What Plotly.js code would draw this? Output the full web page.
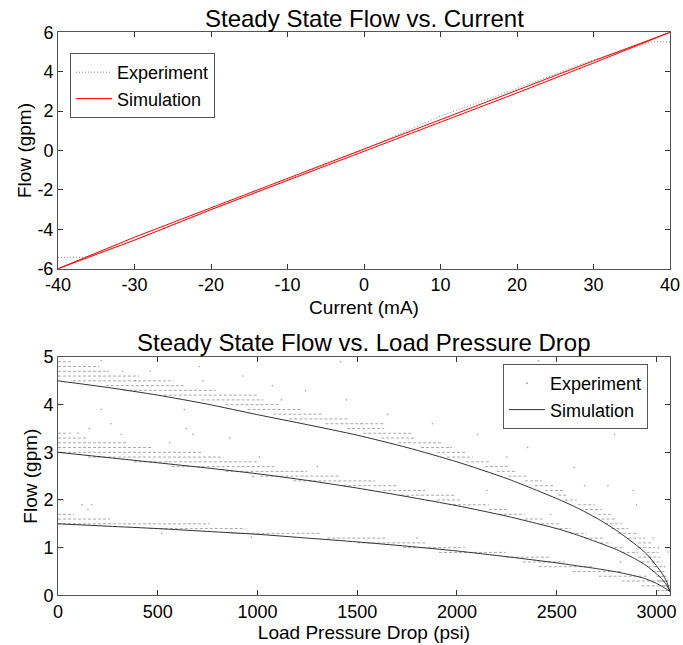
<!DOCTYPE html>
<html>
<head>
<meta charset="utf-8">
<script src="https://cdn.plot.ly/plotly-3.0.1.min.js"></script>
<style>html,body{margin:0;padding:0;background:#fff;}#chart{width:683px;height:645px;}</style>
</head>
<body>
<div id="chart"></div>
<script>
// ---------- Top panel: Flow vs Current ----------
const currentTicks = [-40, -30, -20, -10, 0, 10, 20, 30, 40];
const currentTickText = ['-40', '-30', '-20', '-10', '0', '10', '20', '30', '40'];
const flowTicksTop = [-6, -4, -2, 0, 2, 4, 6];
const flowTickTextTop = ['-6', '-4', '-2', '0', '2', '4', '6'];

const expCurrent = [-40, -36.5, -30, -20, -10, 0, 10, 20, 30, 37.5, 40];
const expFlowTop = [-5.42, -5.42, -4.55, -3.02, -1.5, 0.05, 1.75, 3.15, 4.6, 5.52, 5.52];

const simCurrent = [-40, -30, -20, -10, 0, 10, 20, 30, 40, 30, 20, 10, 0, -10, -20, -30, -40];
const simFlowTop = [-6, -4.55, -3.0, -1.53, -0.06, 1.44, 2.92, 4.44, 6, 4.55, 3.06, 1.58, 0.07, -1.4, -2.88, -4.4, -6];

// ---------- Bottom panel: Flow vs Load Pressure Drop ----------
const pressureTicks = [0, 500, 1000, 1500, 2000, 2500, 3000];
const flowTicksBot = [0, 1, 2, 3, 4, 5];

// Simulation curves (pressure in psi, flow in gpm)
const simP = [0, 250, 500, 750, 1000, 1250, 1500, 1750, 2000, 2250, 2500, 2600, 2700, 2800, 2900, 2950, 3000, 3030, 3050, 3068];
const simHigh = [4.5, 4.36, 4.2, 4.01, 3.79, 3.58, 3.36, 3.1, 2.8, 2.45, 2.03, 1.84, 1.62, 1.36, 1.05, 0.87, 0.62, 0.45, 0.3, 0.08];
const simMid = [3.0, 2.89, 2.78, 2.67, 2.55, 2.41, 2.25, 2.07, 1.88, 1.66, 1.4, 1.27, 1.12, 0.96, 0.75, 0.62, 0.45, 0.33, 0.22, 0.08];
const simLow = [1.5, 1.45, 1.4, 1.34, 1.28, 1.2, 1.12, 1.03, 0.93, 0.81, 0.68, 0.62, 0.56, 0.49, 0.4, 0.34, 0.25, 0.18, 0.13, 0.08];

// Experiment: quantized flow streaks (flow level, from psi, to psi)
const streakFlow = [
  4.9, 4.8, 4.7, 4.6, 4.5, 4.4, 4.3, 4.2, 4.1, 4.0, 4.0, 3.9, 3.8, 3.7, 3.6, 3.5, 3.4, 3.3, 3.2, 3.1, 3.0, 2.9, 2.8, 2.7, 2.6,
  2.5, 2.4, 2.3, 2.2, 2.1, 2.0, 1.9, 1.8, 1.7, 1.6, 1.5, 1.4, 1.3, 1.2, 1.1, 1.0, 0.9, 0.8, 0.7, 0.6, 0.5, 0.4, 0.3, 0.2, 0.1,
  3.4, 3.3, 3.2, 3.1, 3.0, 2.9, 2.8, 2.7, 2.6, 2.5, 2.4, 2.3, 2.2, 2.1, 2.0, 1.9, 1.8, 1.7, 1.6, 1.5, 1.4, 1.3, 1.2, 1.1, 1.0,
  0.9, 0.8, 0.7, 0.6, 0.5, 0.4, 0.3, 0.2,
  2.0, 1.7, 1.6, 1.5, 1.4, 1.3, 1.2, 1.1, 1.0, 1.0, 0.9, 0.8, 0.7, 0.6, 0.5, 0.4, 0.3, 0.2, 0.1
];
const streakFrom = [
  0, 0, 0, 0, 75, 240, 330, 530, 720, 0, 840, 950, 1080, 1160, 1340, 1450, 1530, 1620, 1705, 1820, 1900, 1950, 2045, 2140, 2200,
  2258, 2341, 2391, 2441, 2508, 2541, 2608, 2642, 2708, 2725, 2742, 2775, 2809, 2859, 2909, 2909, 2951, 2960, 2975, 2990, 3000, 3010, 3020, 3035, 3045,
  0, 0, 0, 0, 0, 150, 380, 570, 840, 1015, 1180, 1430, 1630, 1720, 1900, 1980, 2160, 2210, 2340, 2420, 2490, 2570, 2640, 2720, 2790,
  2826, 2909, 2926, 2960, 2980, 3000, 3010, 3030,
  0, 0, 0, 0, 460, 870, 1350, 1500, 0, 1730, 1910, 2245, 2330, 2410, 2580, 2710, 2826, 2926, 3000
];
const streakTo = [
  73, 206, 240, 407, 580, 630, 790, 1000, 1030, 30, 1105, 1215, 1330, 1450, 1635, 1635, 1770, 1790, 1920, 1970, 2050, 2080, 2160, 2260, 2300,
  2358, 2425, 2491, 2541, 2558, 2600, 2692, 2725, 2775, 2792, 2826, 2859, 2909, 2943, 2976, 2993, 3009, 3020, 3030, 3040, 3050, 3055, 3060, 3065, 3068,
  40, 150, 350, 470, 720, 830, 1000, 1090, 1250, 1415, 1590, 1705, 1840, 1990, 2020, 2160, 2260, 2340, 2440, 2520, 2570, 2650, 2740, 2775, 2840,
  2909, 2976, 2993, 3010, 3030, 3045, 3055, 3060,
  30, 80, 260, 760, 940, 1315, 1640, 1850, 30, 2040, 2245, 2460, 2540, 2680, 2830, 2950, 3043, 3068, 3068
];

// Experiment: isolated points (psi, gpm)
const dotP = [216, 250, 325, 462, 708, 727, 928, 216, 633, 266, 157, 643, 677, 860, 317, 1417, 1074, 1241, 1447, 1652, 1877, 1970,
  2410, 2362, 2687, 2728, 2790, 2103, 2354, 2588, 978, 970, 2757, 2883, 2983, 3057, 120, 150, 170, 60, 100, 390, 560, 1120, 1520, 2250,
  2640, 2900, 3010, 1300, 1800, 2150, 520, 1010, 2470, 2820, 3040];
const dotQ = [4.92, 4.7, 4.7, 4.7, 4.8, 4.5, 4.6, 3.9, 3.9, 3.6, 3.5, 3.5, 3.38, 3.3, 3.38, 4.9, 4.4, 4.29, 4.1, 3.8, 3.6, 3.1,
  4.92, 4.57, 3.52, 3.52, 3.38, 3.38, 3.1, 2.68, 2.49, 1.22, 2.3, 2.2, 1.2, 0.91, 1.9, 1.8, 1.9, 3.4, 3.4, 4.5, 3.2, 4.1, 3.6, 2.9,
  2.3, 1.9, 1.0, 2.7, 1.2, 2.2, 1.3, 2.9, 1.7, 0.7, 0.6];

// Build streak segments separated by gaps
const segX = [], segY = [];
for (let i = 0; i < streakFlow.length; i++) {
  segX.push(streakFrom[i], streakTo[i], null);
  segY.push(streakFlow[i], streakFlow[i], null);
}

const FONT = 'Liberation Sans, Arial, Helvetica, sans-serif';

const traces = [
  { x: expCurrent, y: expFlowTop, type: 'scatter', mode: 'lines', name: 'Experiment',
    line: { color: '#808080', width: 1, dash: '1px,2px' }, xaxis: 'x', yaxis: 'y', legend: 'legend' },
  { x: simCurrent, y: simFlowTop, type: 'scatter', mode: 'lines', name: 'Simulation',
    line: { color: '#ff0000', width: 1 }, xaxis: 'x', yaxis: 'y', legend: 'legend' },

  { x: segX, y: segY, type: 'scatter', mode: 'lines', name: 'Experiment streaks', showlegend: false,
    line: { color: '#a8a8a8', width: 1, dash: '3px,2px' }, connectgaps: false, xaxis: 'x2', yaxis: 'y2', hoverinfo: 'skip' },
  { x: dotP, y: dotQ, type: 'scatter', mode: 'markers', name: 'Experiment',
    marker: { color: '#a0a0a0', size: 1.6 }, xaxis: 'x2', yaxis: 'y2', legend: 'legend2' },
  { x: simP, y: simHigh, type: 'scatter', mode: 'lines', name: 'Simulation', line: { color: '#303030', width: 1, shape: 'spline', smoothing: 0.6 },
    xaxis: 'x2', yaxis: 'y2', legend: 'legend2' },
  { x: simP, y: simMid, type: 'scatter', mode: 'lines', name: 'Simulation', showlegend: false, line: { color: '#303030', width: 1, shape: 'spline', smoothing: 0.6 },
    xaxis: 'x2', yaxis: 'y2' },
  { x: simP, y: simLow, type: 'scatter', mode: 'lines', name: 'Simulation', showlegend: false, line: { color: '#303030', width: 1, shape: 'spline', smoothing: 0.6 },
    xaxis: 'x2', yaxis: 'y2' }
];

const axisCommon = {
  showgrid: false, zeroline: false, showline: true, mirror: 'allticks',
  linecolor: '#555', linewidth: 1, ticks: 'inside', ticklen: 5, tickcolor: '#333',
  tickfont: { family: FONT, size: 18, color: '#000' }, automargin: false
};

const W = 683, H = 645;
const xDom = [58 / W, 670 / W];

const legendCommon = {
  xanchor: 'left', yanchor: 'top', bgcolor: '#fff', bordercolor: '#555', borderwidth: 1,
  font: { family: FONT, size: 18, color: '#000' }, tracegroupgap: 0, itemwidth: 36
};

const layout = {
  width: W, height: H,
  margin: { l: 0, r: 0, t: 0, b: 0 },
  paper_bgcolor: '#fff', plot_bgcolor: '#fff',
  font: { family: FONT, size: 18, color: '#000' },
  showlegend: true,
  xaxis: Object.assign({}, axisCommon, { domain: xDom, anchor: 'y', range: [-40, 40],
    tickvals: currentTicks, ticktext: currentTickText,
    title: { text: 'Current (mA)', font: { family: FONT, size: 19 }, standoff: 6 } }),
  yaxis: Object.assign({}, axisCommon, { domain: [(H - 268.7) / H, (H - 32.3) / H], anchor: 'x', range: [-6, 6],
    tickvals: flowTicksTop, ticktext: flowTickTextTop,
    title: { text: 'Flow (gpm)', font: { family: FONT, size: 19 }, standoff: 0 } }),
  xaxis2: Object.assign({}, axisCommon, { domain: xDom, anchor: 'y2', range: [0, 3068],
    tickvals: pressureTicks,
    title: { text: 'Load Pressure Drop (psi)', font: { family: FONT, size: 19 }, standoff: 4 } }),
  yaxis2: Object.assign({}, axisCommon, { domain: [(H - 595.3) / H, (H - 357) / H], anchor: 'x2', range: [0, 5],
    tickvals: flowTicksBot,
    title: { text: 'Flow (gpm)', font: { family: FONT, size: 19 }, standoff: 0 } }),
  legend: Object.assign({}, legendCommon, { x: 70 / W, y: (H - 53) / H }),
  legend2: Object.assign({}, legendCommon, { x: 503 / W, y: (H - 364) / H }),
  annotations: [
    { text: 'Steady State Flow vs. Current', xref: 'paper', yref: 'paper', x: 364 / W, y: (H - 19) / H,
      xanchor: 'center', yanchor: 'middle', showarrow: false, font: { family: FONT, size: 24, color: '#000' } },
    { text: 'Steady State Flow vs. Load Pressure Drop', xref: 'paper', yref: 'paper', x: 364 / W, y: (H - 343) / H,
      xanchor: 'center', yanchor: 'middle', showarrow: false, font: { family: FONT, size: 24, color: '#000' } }
  ]
};

Plotly.newPlot('chart', traces, layout, { displayModeBar: false, staticPlot: true });
</script>
</body>
</html>
